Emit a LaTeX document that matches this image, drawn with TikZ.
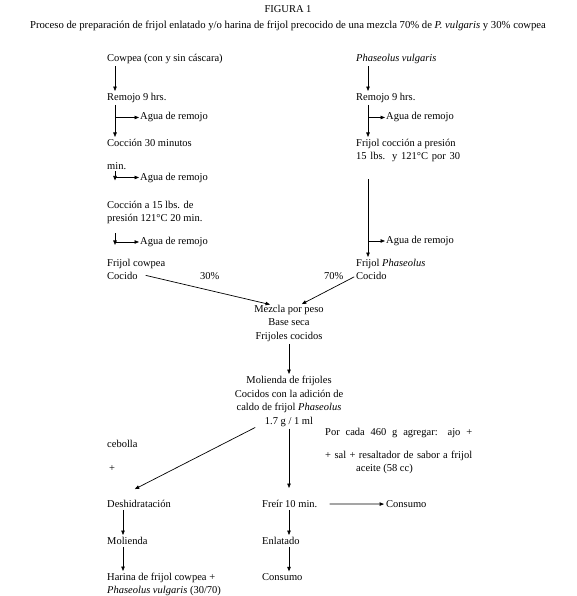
\documentclass[tikz,border=0pt]{standalone}
\usepackage{fontspec}
\setmainfont{Liberation Serif}
\usetikzlibrary{positioning,arrows.meta,calc}

\begin{document}
\begin{tikzpicture}[
    x=1pt, y=-1pt,
    font=\fontsize{10.5}{12.5}\selectfont,
    txt/.style={inner sep=0pt, anchor=base west},
    blk/.style={inner sep=0pt, anchor=north west, align=left},
    mid/.style={inner sep=0pt, anchor=north, align=center, font=\fontsize{10.5}{13.5}\selectfont},
    arrow/.style={-{Triangle[length=4.5pt,width=3.5pt]}, line width=0.7pt, shorten <=2pt, shorten >=2pt},
    branch/.style={-{Triangle[length=4.5pt,width=3.5pt]}, line width=0.7pt, shorten >=1pt}
]
\useasboundingbox (0,0) rectangle (577,596);
% titulo
\node[txt, anchor=base] (fig) at (288,13) {FIGURA 1};
\node[txt, anchor=base, font=\fontsize{10.7}{12.5}\selectfont] (title) at (288,29) {Proceso de preparación de frijol enlatado y/o harina de frijol precocido de una mezcla 70\% de \textit{P. vulgaris} y 30\% cowpea};

% cowpea
\node[txt] (cowpea) at (107,62) {Cowpea (con y sin cáscara)};
\node[txt] (remA) at (107,100.5) {Remojo 9 hrs.};
\node[txt] (aguaA1) at (140,120) {Agua de remojo};
\node[txt] (coccA) at (107,146.5) {Cocción 30 minutos};
\node[txt] (minA) at (107,169) {min.};
\node[txt] (aguaA2) at (140,180) {Agua de remojo};
\node[blk] (presA) at (107,201) {Cocción a 15 lbs. de\\presión 121°C 20 min.};
\node[txt] (aguaA3) at (140,244.5) {Agua de remojo};
\node[txt] (frijA) at (107,266.5) {Frijol cowpea};
\node[txt] (cocA) at (107,279.5) {Cocido};
\node[txt] (p30) at (200,279.5) {30\%};

% phaseolus
\node[txt] (phas) at (356,62) {\textit{Phaseolus vulgaris}};
\node[txt] (remB) at (356,100.5) {Remojo 9 hrs.};
\node[txt] (aguaB1) at (386,120) {Agua de remojo};
\node[blk] (coccB) at (356,139) {Frijol cocción a presión\\\makebox[104pt][s]{15 lbs. y 121°C por 30}};
\node[txt] (aguaB2) at (386,243.5) {Agua de remojo};
\node[txt] (frijB) at (356,266.5) {Frijol \textit{Phaseolus}};
\node[txt] (cocB) at (356,279.5) {Cocido};
\node[txt] (p70) at (324,279.5) {70\%};

% mezcla y molienda
\node[mid] (mez) at (289,305) {Mezcla por peso\\Base seca\\Frijoles cocidos};
\node[mid] (mol) at (289,376) {Molienda de frijoles\\Cocidos con la adición de\\caldo de frijol \textit{Phaseolus}\\1.7 g / 1 ml};
\node[txt] (ceb) at (107,447.5) {cebolla};
\node[txt] (mas) at (109,471.5) {+};
\node[blk] (adic) at (325,428) {\makebox[147pt][s]{Por cada 460 g agregar: ajo +}\\[11pt]\makebox[147pt][s]{+ sal + resaltador de sabor a frijol}\\\hspace*{31pt}aceite (58 cc)};

% salidas
\node[txt] (desh) at (107,507.5) {Deshidratación};
\node[txt] (molB) at (107,544.5) {Molienda};
\node[blk] (har) at (107,573) {Harina de frijol cowpea +\\\textit{Phaseolus vulgaris} (30/70)};
\node[txt] (freir) at (262,507.5) {Freír 10 min.};
\node[txt] (cons1) at (386,507.5) {Consumo};
\node[txt] (enl) at (262,544.5) {Enlatado};
\node[txt] (cons2) at (262,580.5) {Consumo};

% flechas cowpea
\draw[arrow] ([xshift=8pt]cowpea.south west) -- ([xshift=8pt]remA.north west);
\draw[arrow] ([xshift=8pt]remA.south west) -- ([xshift=8pt]coccA.north west);
\draw[branch] ([xshift=8pt]remA.south west |- aguaA1.west) -- (aguaA1.west);
\draw[arrow] ([xshift=8pt]minA.south west) -- ([xshift=8pt]minA.south west |- aguaA2.south);
\draw[branch] ([xshift=8pt]minA.south west |- aguaA2.west) -- (aguaA2.west);
\draw[arrow] ([xshift=8pt,yshift=-8pt]presA.south west) -- ([xshift=8pt]presA.south west |- aguaA3.south);
\draw[branch] ([xshift=8pt]presA.south west |- aguaA3.west) -- (aguaA3.west);

% flechas phaseolus
\draw[arrow] ([xshift=12pt]phas.south west) -- ([xshift=12pt]remB.north west);
\draw[arrow] ([xshift=12pt]remB.south west) -- ([xshift=12pt]coccB.north west);
\draw[branch] ([xshift=12pt]remB.south west |- aguaB1.west) -- (aguaB1.west);
\draw[arrow] ([xshift=12pt,yshift=-16pt]coccB.south west) -- ([xshift=12pt]frijB.north west);
\draw[branch] ([xshift=12pt]frijB.north west |- aguaB2.west) -- (aguaB2.west);

% mezcla
\draw[arrow] ([xshift=6pt,yshift=1pt]cocA.east) -- ([xshift=-17pt]mez.north);
\draw[arrow] (cocB.west) -- ([xshift=11pt]mez.north);
\draw[arrow] (mez.south) -- (mol.north);
\draw[arrow] ([xshift=-32pt]mol.south) -- ([xshift=26pt,yshift=10pt]desh.north west);
\draw[arrow] (mol.south) -- ([yshift=10pt]mol.south |- freir.north);
\draw[arrow] ([xshift=10pt]freir.east) -- (cons1.west);
\draw[arrow] ([xshift=16pt]desh.south west) -- ([xshift=16pt]molB.north west);
\draw[arrow] ([xshift=16pt]molB.south west) -- ([xshift=16pt]har.north west);
\draw[arrow] (freir.south -| mol.south) -- (enl.north -| mol.south);
\draw[arrow] (enl.south -| mol.south) -- (cons2.north -| mol.south);
\end{tikzpicture}
\end{document}
